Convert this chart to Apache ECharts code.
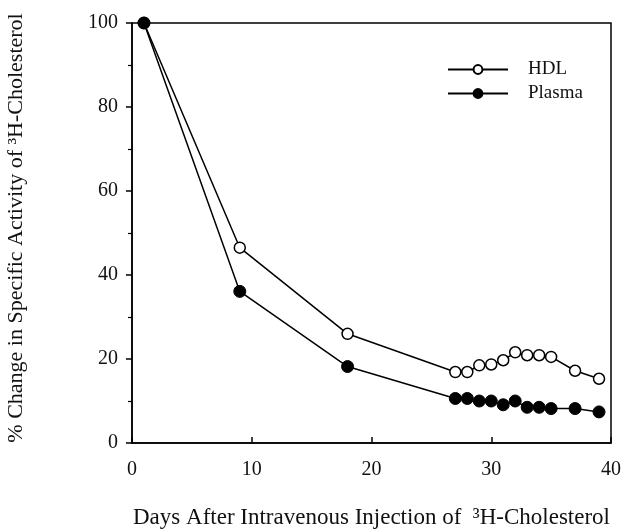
<!DOCTYPE html>
<html>
<head>
<meta charset="utf-8">
<script src="https://cdn.jsdelivr.net/npm/echarts@6/dist/echarts.min.js"></script>
<style>
  html, body { margin: 0; padding: 0; background: #fff; }
  #chart { width: 625px; height: 531px; }
</style>
</head>
<body>
<div id="chart"></div>
<script>
// 数据：天数与两条曲线的百分比
var days = [1, 9, 18, 27, 28, 29, 30, 31, 32, 33, 34, 35, 37, 39]
var hdl = [100, 46.5, 26, 16.9, 16.9, 18.5, 18.7, 19.7, 21.6, 20.9, 20.9, 20.5, 17.2, 15.3]
var plasma = [100, 36.1, 18.2, 10.6, 10.6, 10.0, 10.0, 9.1, 10.0, 8.5, 8.5, 8.2, 8.2, 7.4]
var xTicks = [0, 10, 20, 30, 40]
var yTicks = [0, 20, 40, 60, 80, 100]

var pairs = (ys) => days.map((d, i) => [d, ys[i]])

var chart = echarts.init(document.getElementById('chart'))

var serif = 'Liberation Serif, Times New Roman, serif'

chart.setOption({
  animation: false,
  backgroundColor: '#fff',
  grid: {
    left: 132, top: 23, width: 479, height: 420,
    outerBoundsMode: 'none',
    show: true, borderColor: '#000', borderWidth: 1.5, backgroundColor: 'transparent'
  },
  legend: {
    orient: 'vertical',
    left: 442, top: 55,
    itemWidth: 60, itemHeight: 11, itemGap: 5,
    textStyle: { fontFamily: serif, fontSize: 19, color: '#111', padding: [0, 0, 0, 15] },
    data: ['HDL', 'Plasma']
  },
  xAxis: {
    type: 'value',
    min: xTicks[0], max: xTicks[xTicks.length - 1], interval: 10,
    name: 'Days After Intravenous Injection of  ³H-Cholesterol',
    nameLocation: 'middle', nameGap: 63,
    nameTextStyle: { fontFamily: serif, fontSize: 23, color: '#111' },
    axisLine: { lineStyle: { color: '#000', width: 1.5 } },
    axisTick: { inside: true, length: 6, lineStyle: { color: '#000', width: 1.5 } },
    axisLabel: { fontFamily: serif, fontSize: 20, color: '#111', margin: 17 },
    splitLine: { show: false }
  },
  yAxis: {
    type: 'value',
    min: yTicks[0], max: yTicks[yTicks.length - 1], interval: 20,
    name: '% Change in Specific Activity of ³H-Cholesterol',
    nameLocation: 'middle', nameGap: 105,
    nameTextStyle: { fontFamily: serif, fontSize: 22, color: '#111', padding: [0, 0, 0, 10] },
    axisLine: { lineStyle: { color: '#000', width: 1.5 } },
    axisTick: { length: 6, lineStyle: { color: '#000', width: 1.5 } },
    minorTick: { show: true, splitNumber: 2, length: 4, lineStyle: { color: '#000', width: 1.2 } },
    axisLabel: { fontFamily: serif, fontSize: 20, color: '#111', margin: 14 },
    splitLine: { show: false }
  },
  series: [
    {
      name: 'HDL', type: 'line', data: pairs(hdl),
      symbol: 'circle', symbolSize: 11, z: 3,
      lineStyle: { color: '#000', width: 1.5 },
      itemStyle: { color: '#fff', borderColor: '#000', borderWidth: 1.5 }
    },
    {
      name: 'Plasma', type: 'line', data: pairs(plasma),
      symbol: 'circle', symbolSize: 12, z: 4,
      lineStyle: { color: '#000', width: 1.5 },
      itemStyle: { color: '#000', borderColor: '#000', borderWidth: 1 }
    }
  ]
})
</script>
</body>
</html>
